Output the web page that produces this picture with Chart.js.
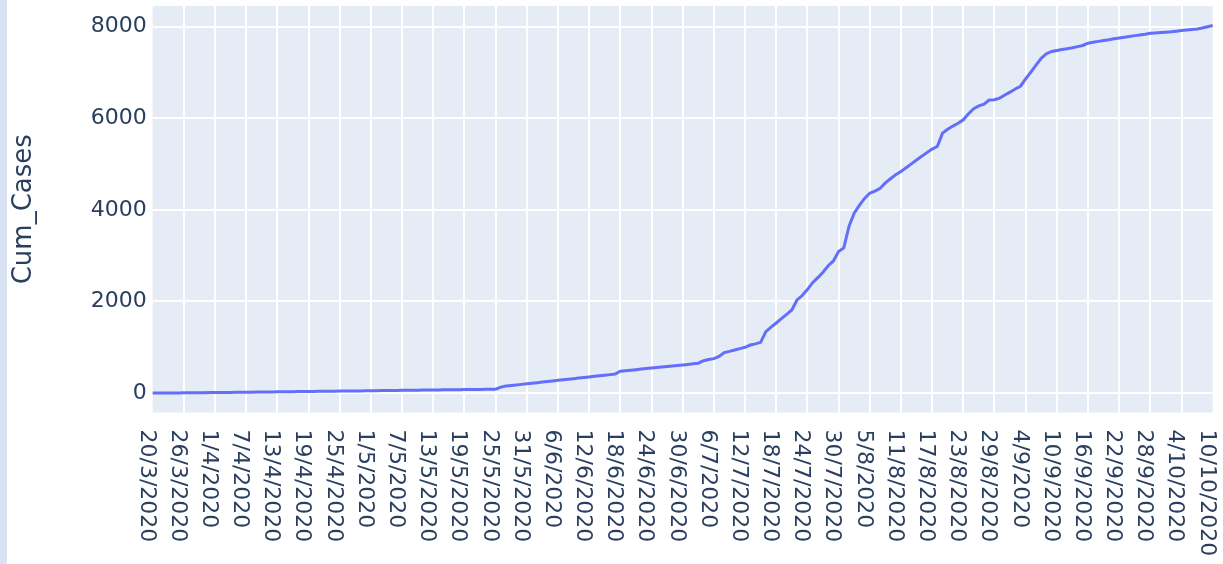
<!DOCTYPE html>
<html>
<head>
<meta charset="utf-8">
<script src="https://cdn.jsdelivr.net/npm/chart.js@4.4.1/dist/chart.umd.min.js"></script>
<style>
html,body{margin:0;padding:0;background:#fff;overflow:hidden;width:1223px;height:564px}
#strip{position:absolute;left:0;top:0;width:7px;height:564px;background:#d9e2f3}
#c{position:absolute;left:0;top:0}
</style>
</head>
<body>
<div id="strip"></div>
<canvas id="c" width="1223" height="564"></canvas>
<script>
// ---- data ----
const startDay = [2020, 3, 20];   // 20/3/2020, one category per day up to 10/10/2020
const dayCount = 205;
const dates = [];
for (let i = 0; i < dayCount; i++) {
  const d = new Date(Date.UTC(startDay[0], startDay[1] - 1, startDay[2] + i));
  dates.push(d.getUTCDate() + '/' + (d.getUTCMonth() + 1) + '/' + d.getUTCFullYear());
}

const cumCases = [
  1,1,2,3,3,4,5,6,7,8,
  9,10,11,12,14,15,16,18,19,20,
  22,23,24,26,27,28,30,31,32,33,
  35,36,38,39,40,42,43,44,46,47,
  48,49,51,52,54,55,57,58,60,61,
  62,64,65,67,68,70,71,73,74,75,
  76,77,79,80,81,83,84,130,153,165,
  178,190,203,215,228,240,253,265,278,290,
  303,315,328,340,353,365,378,390,403,415,
  478,489,501,512,524,535,546,558,569,581,
  592,603,615,626,638,652,706,732,752,800,
  885,910,940,970,1000,1049,1075,1108,1340,1440,
  1530,1625,1720,1814,2033,2130,2260,2410,2520,2640,
  2780,2885,3089,3170,3640,3930,4100,4250,4365,4410,
  4474,4590,4680,4770,4837,4920,5005,5090,5170,5250,
  5327,5384,5676,5760,5830,5890,5967,6100,6210,6270,
  6310,6400,6404,6440,6510,6570,6640,6700,6860,7010,
  7160,7310,7410,7460,7480,7500,7520,7540,7565,7590,
  7640,7660,7680,7700,7715,7735,7752,7770,7788,7805,
  7820,7835,7855,7865,7872,7880,7890,7903,7915,7928,
  7940,7952,7970,8000,8025
];

const xTickLabels = [
  '20/3/2020','26/3/2020','1/4/2020','7/4/2020','13/4/2020','19/4/2020','25/4/2020',
  '1/5/2020','7/5/2020','13/5/2020','19/5/2020','25/5/2020','31/5/2020','6/6/2020',
  '12/6/2020','18/6/2020','24/6/2020','30/6/2020','6/7/2020','12/7/2020','18/7/2020',
  '24/7/2020','30/7/2020','5/8/2020','11/8/2020','17/8/2020','23/8/2020','29/8/2020',
  '4/9/2020','10/9/2020','16/9/2020','22/9/2020','28/9/2020','4/10/2020','10/10/2020'
];
const yTickValues = [0, 2000, 4000, 6000, 8000];
const yTitle = 'Cum_Cases';

// ---- styling ----
const FONT = '"DejaVu Sans", Verdana, sans-serif';
const TEXT = '#2a3f5f';
const PLOT_BG = '#e5ecf6';

const plotBg = {
  id: 'plotBg',
  beforeDraw(chart) {
    const a = chart.chartArea, ctx = chart.ctx;
    ctx.save();
    ctx.fillStyle = PLOT_BG;
    ctx.fillRect(a.left, a.top, a.right - a.left, a.bottom - a.top);
    ctx.restore();
  }
};

const xLabels = {
  id: 'xLabels',
  afterDraw(chart) {
    const ctx = chart.ctx, xs = chart.scales.x;
    ctx.save();
    ctx.fillStyle = TEXT;
    ctx.font = '22px ' + FONT;
    ctx.textAlign = 'left';
    ctx.textBaseline = 'middle';
    xTickLabels.forEach(lbl => {
      const idx = dates.indexOf(lbl);
      if (idx < 0) return;
      const px = xs.getPixelForValue(idx);
      ctx.save();
      ctx.translate(px - 6.4, chart.chartArea.bottom + 17);
      ctx.rotate(Math.PI / 2);
      ctx.fillText(lbl, 0, 0);
      ctx.restore();
    });
    ctx.restore();
  }
};

const tickSet = new Set(xTickLabels.map(l => dates.indexOf(l)));

new Chart(document.getElementById('c'), {
  type: 'line',
  data: {
    labels: dates,
    datasets: [{
      data: cumCases,
      borderColor: '#636efa',
      borderWidth: 3,
      pointRadius: 0,
      tension: 0,
      fill: false
    }]
  },
  options: {
    responsive: false,
    animation: false,
    devicePixelRatio: 1,
    layout: { padding: { left: 0, right: 10.3, top: 6, bottom: 0 } },
    plugins: { legend: { display: false }, tooltip: { enabled: false } },
    scales: {
      x: {
        type: 'category',
        offset: false,
        ticks: { display: false, autoSkip: false },
        border: { display: false },
        grid: {
          drawTicks: false,
          lineWidth: 2,
          color: (c) => (c.index > 0 && c.index < dayCount - 1 && tickSet.has(c.index)) ? '#ffffff' : 'rgba(0,0,0,0)'
        },
        afterFit(s) { s.height = 151.5; s.paddingLeft = 0; s.paddingRight = 0; }
      },
      y: {
        min: -424,
        max: 8452,
        afterBuildTicks(s) { s.ticks = yTickValues.map(v => ({ value: v })); },
        ticks: {
          color: TEXT,
          padding: 6,
          font: { family: FONT, size: 22 },
          callback: (v) => String(v)
        },
        border: { display: false },
        grid: { drawTicks: false, color: '#ffffff', lineWidth: 2 },
        title: {
          display: true,
          text: yTitle,
          color: TEXT,
          font: { family: FONT, size: 26 },
          padding: { top: 9, bottom: 0 }
        },
        afterFit(s) { s.width = 152.7; s.paddingTop = 0; s.paddingBottom = 0; }
      }
    }
  },
  plugins: [plotBg, xLabels]
});
</script>
</body>
</html>
